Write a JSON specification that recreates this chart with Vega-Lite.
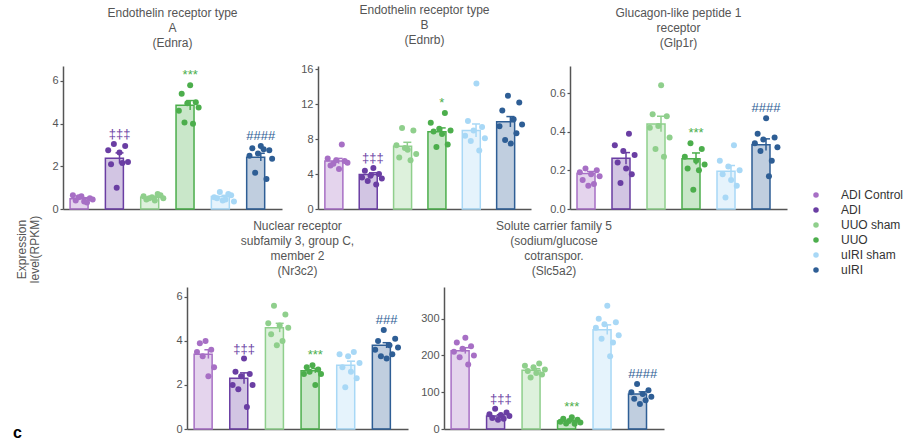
{
"$schema":"https://vega.github.io/schema/vega-lite/v6.json",
"padding":{"left":13,"top":4,"right":0,"bottom":0},
"title":{"text":"c","orient":"bottom","anchor":"start","fontSize":16,"fontWeight":"bold","color":"#000","baseline":"alphabetic","offset":4,"dx":-2},
"spacing":1,
"datasets":{
"summary":[
{"gene":"Ednra","group":"ADI Control","mean":0.48,"lo":0.43,"hi":0.53,"max":0.65,"sig":null},
{"gene":"Ednra","group":"ADI","mean":2.38,"lo":2.13,"hi":2.63,"max":3.05,"sig":"‡‡‡"},
{"gene":"Ednra","group":"UUO sham","mean":0.55,"lo":0.51,"hi":0.59,"max":0.7,"sig":null},
{"gene":"Ednra","group":"UUO","mean":4.86,"lo":4.64,"hi":5.08,"max":5.8,"sig":"***"},
{"gene":"Ednra","group":"uIRI sham","mean":0.58,"lo":0.52,"hi":0.64,"max":0.8,"sig":null},
{"gene":"Ednra","group":"uIRI","mean":2.43,"lo":2.25,"hi":2.61,"max":2.95,"sig":"####"},
{"gene":"Ednrb","group":"ADI Control","mean":5.5,"lo":5.2,"hi":5.8,"max":7.4,"sig":null},
{"gene":"Ednrb","group":"ADI","mean":3.95,"lo":3.75,"hi":4.15,"max":4.7,"sig":"‡‡‡"},
{"gene":"Ednrb","group":"UUO sham","mean":7.2,"lo":6.75,"hi":7.65,"max":9.3,"sig":null},
{"gene":"Ednrb","group":"UUO","mean":8.85,"lo":8.4,"hi":9.3,"max":11.0,"sig":"*"},
{"gene":"Ednrb","group":"uIRI sham","mean":9.0,"lo":8.25,"hi":9.75,"max":14.4,"sig":null},
{"gene":"Ednrb","group":"uIRI","mean":10.0,"lo":9.4,"hi":10.6,"max":13.0,"sig":null},
{"gene":"Glp1r","group":"ADI Control","mean":0.184,"lo":0.174,"hi":0.194,"max":0.21,"sig":null},
{"gene":"Glp1r","group":"ADI","mean":0.262,"lo":0.232,"hi":0.292,"max":0.39,"sig":null},
{"gene":"Glp1r","group":"UUO sham","mean":0.44,"lo":0.4,"hi":0.48,"max":0.64,"sig":null},
{"gene":"Glp1r","group":"UUO","mean":0.26,"lo":0.23,"hi":0.29,"max":0.34,"sig":"***"},
{"gene":"Glp1r","group":"uIRI sham","mean":0.195,"lo":0.165,"hi":0.225,"max":0.33,"sig":null},
{"gene":"Glp1r","group":"uIRI","mean":0.333,"lo":0.303,"hi":0.363,"max":0.47,"sig":"####"},
{"gene":"Nr3c2","group":"ADI Control","mean":3.4,"lo":3.2,"hi":3.6,"max":4.0,"sig":null},
{"gene":"Nr3c2","group":"ADI","mean":2.3,"lo":2.05,"hi":2.55,"max":3.2,"sig":"‡‡‡"},
{"gene":"Nr3c2","group":"UUO sham","mean":4.6,"lo":4.4,"hi":4.8,"max":5.6,"sig":null},
{"gene":"Nr3c2","group":"UUO","mean":2.65,"lo":2.55,"hi":2.75,"max":2.9,"sig":"***"},
{"gene":"Nr3c2","group":"uIRI sham","mean":2.9,"lo":2.72,"hi":3.08,"max":3.5,"sig":null},
{"gene":"Nr3c2","group":"uIRI","mean":3.8,"lo":3.68,"hi":3.92,"max":4.5,"sig":"###"},
{"gene":"Slc5a2","group":"ADI Control","mean":213,"lo":205,"hi":221,"max":248,"sig":null},
{"gene":"Slc5a2","group":"ADI","mean":35,"lo":31,"hi":39,"max":55,"sig":"‡‡‡"},
{"gene":"Slc5a2","group":"UUO sham","mean":160,"lo":156,"hi":164,"max":178,"sig":null},
{"gene":"Slc5a2","group":"UUO","mean":22,"lo":20,"hi":24,"max":32,"sig":"***"},
{"gene":"Slc5a2","group":"uIRI sham","mean":270,"lo":257,"hi":283,"max":335,"sig":null},
{"gene":"Slc5a2","group":"uIRI","mean":95,"lo":89,"hi":101,"max":122,"sig":"####"}
],
"points":[
{"gene":"Ednra","group":"ADI Control","rep":5,"value":0.35},{"gene":"Ednra","group":"ADI Control","rep":2,"value":0.4},{"gene":"Ednra","group":"ADI Control","rep":7,"value":0.5},{"gene":"Ednra","group":"ADI Control","rep":4,"value":0.6},{"gene":"Ednra","group":"ADI Control","rep":1,"value":0.65},{"gene":"Ednra","group":"ADI Control","rep":8,"value":0.45},{"gene":"Ednra","group":"ADI Control","rep":3,"value":0.55},{"gene":"Ednra","group":"ADI Control","rep":6,"value":0.3},
{"gene":"Ednra","group":"ADI","rep":3,"value":3.05},{"gene":"Ednra","group":"ADI","rep":7,"value":2.95},{"gene":"Ednra","group":"ADI","rep":1,"value":2.75},{"gene":"Ednra","group":"ADI","rep":5,"value":2.65},{"gene":"Ednra","group":"ADI","rep":8,"value":2.2},{"gene":"Ednra","group":"ADI","rep":2,"value":2.1},{"gene":"Ednra","group":"ADI","rep":6,"value":2.15},{"gene":"Ednra","group":"ADI","rep":4,"value":1.0},
{"gene":"Ednra","group":"UUO sham","rep":6,"value":0.7},{"gene":"Ednra","group":"UUO sham","rep":1,"value":0.6},{"gene":"Ednra","group":"UUO sham","rep":4,"value":0.55},{"gene":"Ednra","group":"UUO sham","rep":8,"value":0.5},{"gene":"Ednra","group":"UUO sham","rep":2,"value":0.45},{"gene":"Ednra","group":"UUO sham","rep":5,"value":0.4},{"gene":"Ednra","group":"UUO sham","rep":7,"value":0.65},{"gene":"Ednra","group":"UUO sham","rep":3,"value":0.5},
{"gene":"Ednra","group":"UUO","rep":5,"value":5.8},{"gene":"Ednra","group":"UUO","rep":2,"value":5.4},{"gene":"Ednra","group":"UUO","rep":7,"value":5.0},{"gene":"Ednra","group":"UUO","rep":4,"value":4.95},{"gene":"Ednra","group":"UUO","rep":1,"value":4.6},{"gene":"Ednra","group":"UUO","rep":8,"value":4.75},{"gene":"Ednra","group":"UUO","rep":3,"value":4.05},{"gene":"Ednra","group":"UUO","rep":6,"value":4.0},
{"gene":"Ednra","group":"uIRI sham","rep":3,"value":0.8},{"gene":"Ednra","group":"uIRI sham","rep":7,"value":0.65},{"gene":"Ednra","group":"uIRI sham","rep":1,"value":0.55},{"gene":"Ednra","group":"uIRI sham","rep":5,"value":0.45},{"gene":"Ednra","group":"uIRI sham","rep":8,"value":0.35},{"gene":"Ednra","group":"uIRI sham","rep":2,"value":0.5},{"gene":"Ednra","group":"uIRI sham","rep":6,"value":0.7},{"gene":"Ednra","group":"uIRI sham","rep":4,"value":0.4},
{"gene":"Ednra","group":"uIRI","rep":5,"value":2.95},{"gene":"Ednra","group":"uIRI","rep":2,"value":2.85},{"gene":"Ednra","group":"uIRI","rep":8,"value":2.75},{"gene":"Ednra","group":"uIRI","rep":4,"value":2.6},{"gene":"Ednra","group":"uIRI","rep":1,"value":2.5},{"gene":"Ednra","group":"uIRI","rep":9,"value":2.35},{"gene":"Ednra","group":"uIRI","rep":3,"value":1.7},{"gene":"Ednra","group":"uIRI","rep":7,"value":1.4},{"gene":"Ednra","group":"uIRI","rep":6,"value":2.8},
{"gene":"Ednrb","group":"ADI Control","rep":6,"value":7.4},{"gene":"Ednrb","group":"ADI Control","rep":1,"value":5.8},{"gene":"Ednrb","group":"ADI Control","rep":4,"value":5.6},{"gene":"Ednrb","group":"ADI Control","rep":8,"value":5.3},{"gene":"Ednrb","group":"ADI Control","rep":2,"value":5.0},{"gene":"Ednrb","group":"ADI Control","rep":5,"value":4.6},{"gene":"Ednrb","group":"ADI Control","rep":7,"value":5.5},{"gene":"Ednrb","group":"ADI Control","rep":3,"value":5.2},
{"gene":"Ednrb","group":"ADI","rep":5,"value":4.7},{"gene":"Ednrb","group":"ADI","rep":2,"value":4.4},{"gene":"Ednrb","group":"ADI","rep":7,"value":4.0},{"gene":"Ednrb","group":"ADI","rep":4,"value":3.8},{"gene":"Ednrb","group":"ADI","rep":1,"value":3.6},{"gene":"Ednrb","group":"ADI","rep":8,"value":3.5},{"gene":"Ednrb","group":"ADI","rep":3,"value":3.2},{"gene":"Ednrb","group":"ADI","rep":6,"value":2.8},
{"gene":"Ednrb","group":"UUO sham","rep":3,"value":9.3},{"gene":"Ednrb","group":"UUO sham","rep":7,"value":9.0},{"gene":"Ednrb","group":"UUO sham","rep":1,"value":7.3},{"gene":"Ednrb","group":"UUO sham","rep":5,"value":6.8},{"gene":"Ednrb","group":"UUO sham","rep":8,"value":6.3},{"gene":"Ednrb","group":"UUO sham","rep":2,"value":5.9},{"gene":"Ednrb","group":"UUO sham","rep":6,"value":5.6},{"gene":"Ednrb","group":"UUO sham","rep":4,"value":7.0},
{"gene":"Ednrb","group":"UUO","rep":6,"value":11.0},{"gene":"Ednrb","group":"UUO","rep":1,"value":9.9},{"gene":"Ednrb","group":"UUO","rep":4,"value":9.2},{"gene":"Ednrb","group":"UUO","rep":8,"value":9.0},{"gene":"Ednrb","group":"UUO","rep":2,"value":8.9},{"gene":"Ednrb","group":"UUO","rep":5,"value":8.6},{"gene":"Ednrb","group":"UUO","rep":7,"value":7.4},{"gene":"Ednrb","group":"UUO","rep":3,"value":7.1},
{"gene":"Ednrb","group":"uIRI sham","rep":5,"value":14.4},{"gene":"Ednrb","group":"uIRI sham","rep":2,"value":10.1},{"gene":"Ednrb","group":"uIRI sham","rep":7,"value":9.4},{"gene":"Ednrb","group":"uIRI sham","rep":4,"value":9.0},{"gene":"Ednrb","group":"uIRI sham","rep":1,"value":8.4},{"gene":"Ednrb","group":"uIRI sham","rep":8,"value":8.1},{"gene":"Ednrb","group":"uIRI sham","rep":3,"value":7.8},{"gene":"Ednrb","group":"uIRI sham","rep":6,"value":6.7},
{"gene":"Ednrb","group":"uIRI","rep":4,"value":13.0},{"gene":"Ednrb","group":"uIRI","rep":8,"value":12.2},{"gene":"Ednrb","group":"uIRI","rep":2,"value":11.3},{"gene":"Ednrb","group":"uIRI","rep":6,"value":10.3},{"gene":"Ednrb","group":"uIRI","rep":9,"value":9.7},{"gene":"Ednrb","group":"uIRI","rep":1,"value":9.5},{"gene":"Ednrb","group":"uIRI","rep":7,"value":8.7},{"gene":"Ednrb","group":"uIRI","rep":3,"value":7.9},{"gene":"Ednrb","group":"uIRI","rep":5,"value":7.5},
{"gene":"Glp1r","group":"ADI Control","rep":3,"value":0.21},{"gene":"Glp1r","group":"ADI Control","rep":7,"value":0.2},{"gene":"Glp1r","group":"ADI Control","rep":1,"value":0.19},{"gene":"Glp1r","group":"ADI Control","rep":5,"value":0.18},{"gene":"Glp1r","group":"ADI Control","rep":8,"value":0.17},{"gene":"Glp1r","group":"ADI Control","rep":2,"value":0.15},{"gene":"Glp1r","group":"ADI Control","rep":6,"value":0.13},{"gene":"Glp1r","group":"ADI Control","rep":4,"value":0.12},
{"gene":"Glp1r","group":"ADI","rep":6,"value":0.39},{"gene":"Glp1r","group":"ADI","rep":1,"value":0.33},{"gene":"Glp1r","group":"ADI","rep":4,"value":0.3},{"gene":"Glp1r","group":"ADI","rep":8,"value":0.28},{"gene":"Glp1r","group":"ADI","rep":2,"value":0.24},{"gene":"Glp1r","group":"ADI","rep":5,"value":0.21},{"gene":"Glp1r","group":"ADI","rep":7,"value":0.18},{"gene":"Glp1r","group":"ADI","rep":3,"value":0.135},
{"gene":"Glp1r","group":"UUO sham","rep":5,"value":0.64},{"gene":"Glp1r","group":"UUO sham","rep":2,"value":0.49},{"gene":"Glp1r","group":"UUO sham","rep":7,"value":0.48},{"gene":"Glp1r","group":"UUO sham","rep":4,"value":0.43},{"gene":"Glp1r","group":"UUO sham","rep":1,"value":0.42},{"gene":"Glp1r","group":"UUO sham","rep":8,"value":0.37},{"gene":"Glp1r","group":"UUO sham","rep":3,"value":0.31},{"gene":"Glp1r","group":"UUO sham","rep":6,"value":0.27},
{"gene":"Glp1r","group":"UUO","rep":3,"value":0.34},{"gene":"Glp1r","group":"UUO","rep":7,"value":0.31},{"gene":"Glp1r","group":"UUO","rep":1,"value":0.27},{"gene":"Glp1r","group":"UUO","rep":5,"value":0.25},{"gene":"Glp1r","group":"UUO","rep":8,"value":0.23},{"gene":"Glp1r","group":"UUO","rep":2,"value":0.21},{"gene":"Glp1r","group":"UUO","rep":6,"value":0.2},{"gene":"Glp1r","group":"UUO","rep":4,"value":0.1},
{"gene":"Glp1r","group":"uIRI sham","rep":6,"value":0.33},{"gene":"Glp1r","group":"uIRI sham","rep":1,"value":0.25},{"gene":"Glp1r","group":"uIRI sham","rep":4,"value":0.22},{"gene":"Glp1r","group":"uIRI sham","rep":8,"value":0.2},{"gene":"Glp1r","group":"uIRI sham","rep":2,"value":0.18},{"gene":"Glp1r","group":"uIRI sham","rep":5,"value":0.15},{"gene":"Glp1r","group":"uIRI sham","rep":7,"value":0.12},{"gene":"Glp1r","group":"uIRI sham","rep":3,"value":0.06},
{"gene":"Glp1r","group":"uIRI","rep":5,"value":0.47},{"gene":"Glp1r","group":"uIRI","rep":2,"value":0.39},{"gene":"Glp1r","group":"uIRI","rep":8,"value":0.37},{"gene":"Glp1r","group":"uIRI","rep":4,"value":0.36},{"gene":"Glp1r","group":"uIRI","rep":1,"value":0.34},{"gene":"Glp1r","group":"uIRI","rep":9,"value":0.32},{"gene":"Glp1r","group":"uIRI","rep":3,"value":0.3},{"gene":"Glp1r","group":"uIRI","rep":7,"value":0.25},{"gene":"Glp1r","group":"uIRI","rep":6,"value":0.17},
{"gene":"Nr3c2","group":"ADI Control","rep":4,"value":4.0},{"gene":"Nr3c2","group":"ADI Control","rep":2,"value":3.9},{"gene":"Nr3c2","group":"ADI Control","rep":6,"value":3.6},{"gene":"Nr3c2","group":"ADI Control","rep":3,"value":3.3},{"gene":"Nr3c2","group":"ADI Control","rep":1,"value":3.5},{"gene":"Nr3c2","group":"ADI Control","rep":7,"value":2.8},{"gene":"Nr3c2","group":"ADI Control","rep":5,"value":2.4},
{"gene":"Nr3c2","group":"ADI","rep":5,"value":3.2},{"gene":"Nr3c2","group":"ADI","rep":2,"value":2.6},{"gene":"Nr3c2","group":"ADI","rep":7,"value":2.5},{"gene":"Nr3c2","group":"ADI","rep":4,"value":2.4},{"gene":"Nr3c2","group":"ADI","rep":1,"value":2.0},{"gene":"Nr3c2","group":"ADI","rep":8,"value":2.0},{"gene":"Nr3c2","group":"ADI","rep":3,"value":1.8},{"gene":"Nr3c2","group":"ADI","rep":6,"value":1.0},
{"gene":"Nr3c2","group":"UUO sham","rep":3,"value":5.6},{"gene":"Nr3c2","group":"UUO sham","rep":7,"value":5.2},{"gene":"Nr3c2","group":"UUO sham","rep":1,"value":4.8},{"gene":"Nr3c2","group":"UUO sham","rep":5,"value":4.7},{"gene":"Nr3c2","group":"UUO sham","rep":8,"value":4.6},{"gene":"Nr3c2","group":"UUO sham","rep":2,"value":4.3},{"gene":"Nr3c2","group":"UUO sham","rep":6,"value":4.0},{"gene":"Nr3c2","group":"UUO sham","rep":4,"value":3.8},
{"gene":"Nr3c2","group":"UUO","rep":4,"value":2.9},{"gene":"Nr3c2","group":"UUO","rep":2,"value":2.8},{"gene":"Nr3c2","group":"UUO","rep":6,"value":2.7},{"gene":"Nr3c2","group":"UUO","rep":3,"value":2.6},{"gene":"Nr3c2","group":"UUO","rep":1,"value":2.5},{"gene":"Nr3c2","group":"UUO","rep":7,"value":2.5},{"gene":"Nr3c2","group":"UUO","rep":5,"value":2.0},
{"gene":"Nr3c2","group":"uIRI sham","rep":6,"value":3.5},{"gene":"Nr3c2","group":"uIRI sham","rep":1,"value":3.4},{"gene":"Nr3c2","group":"uIRI sham","rep":4,"value":3.3},{"gene":"Nr3c2","group":"uIRI sham","rep":8,"value":3.0},{"gene":"Nr3c2","group":"uIRI sham","rep":2,"value":2.8},{"gene":"Nr3c2","group":"uIRI sham","rep":5,"value":2.6},{"gene":"Nr3c2","group":"uIRI sham","rep":7,"value":2.3},{"gene":"Nr3c2","group":"uIRI sham","rep":3,"value":1.9},
{"gene":"Nr3c2","group":"uIRI","rep":4,"value":4.5},{"gene":"Nr3c2","group":"uIRI","rep":8,"value":4.1},{"gene":"Nr3c2","group":"uIRI","rep":2,"value":4.0},{"gene":"Nr3c2","group":"uIRI","rep":6,"value":3.8},{"gene":"Nr3c2","group":"uIRI","rep":9,"value":3.7},{"gene":"Nr3c2","group":"uIRI","rep":1,"value":3.6},{"gene":"Nr3c2","group":"uIRI","rep":7,"value":3.4},{"gene":"Nr3c2","group":"uIRI","rep":3,"value":3.3},{"gene":"Nr3c2","group":"uIRI","rep":5,"value":3.2},
{"gene":"Slc5a2","group":"ADI Control","rep":5,"value":248},{"gene":"Slc5a2","group":"ADI Control","rep":2,"value":235},{"gene":"Slc5a2","group":"ADI Control","rep":7,"value":225},{"gene":"Slc5a2","group":"ADI Control","rep":4,"value":218},{"gene":"Slc5a2","group":"ADI Control","rep":1,"value":210},{"gene":"Slc5a2","group":"ADI Control","rep":8,"value":200},{"gene":"Slc5a2","group":"ADI Control","rep":3,"value":195},{"gene":"Slc5a2","group":"ADI Control","rep":6,"value":175},
{"gene":"Slc5a2","group":"ADI","rep":3,"value":55},{"gene":"Slc5a2","group":"ADI","rep":7,"value":45},{"gene":"Slc5a2","group":"ADI","rep":1,"value":40},{"gene":"Slc5a2","group":"ADI","rep":5,"value":38},{"gene":"Slc5a2","group":"ADI","rep":8,"value":35},{"gene":"Slc5a2","group":"ADI","rep":2,"value":30},{"gene":"Slc5a2","group":"ADI","rep":6,"value":28},{"gene":"Slc5a2","group":"ADI","rep":4,"value":25},
{"gene":"Slc5a2","group":"UUO sham","rep":6,"value":178},{"gene":"Slc5a2","group":"UUO sham","rep":1,"value":172},{"gene":"Slc5a2","group":"UUO sham","rep":4,"value":168},{"gene":"Slc5a2","group":"UUO sham","rep":8,"value":162},{"gene":"Slc5a2","group":"UUO sham","rep":2,"value":158},{"gene":"Slc5a2","group":"UUO sham","rep":5,"value":152},{"gene":"Slc5a2","group":"UUO sham","rep":7,"value":148},{"gene":"Slc5a2","group":"UUO sham","rep":3,"value":140},
{"gene":"Slc5a2","group":"UUO","rep":5,"value":32},{"gene":"Slc5a2","group":"UUO","rep":2,"value":28},{"gene":"Slc5a2","group":"UUO","rep":7,"value":25},{"gene":"Slc5a2","group":"UUO","rep":4,"value":22},{"gene":"Slc5a2","group":"UUO","rep":1,"value":20},{"gene":"Slc5a2","group":"UUO","rep":8,"value":18},{"gene":"Slc5a2","group":"UUO","rep":3,"value":15},{"gene":"Slc5a2","group":"UUO","rep":6,"value":14},
{"gene":"Slc5a2","group":"uIRI sham","rep":5,"value":335},{"gene":"Slc5a2","group":"uIRI sham","rep":2,"value":300},{"gene":"Slc5a2","group":"uIRI sham","rep":8,"value":290},{"gene":"Slc5a2","group":"uIRI sham","rep":4,"value":285},{"gene":"Slc5a2","group":"uIRI sham","rep":1,"value":275},{"gene":"Slc5a2","group":"uIRI sham","rep":9,"value":255},{"gene":"Slc5a2","group":"uIRI sham","rep":3,"value":245},{"gene":"Slc5a2","group":"uIRI sham","rep":7,"value":235},{"gene":"Slc5a2","group":"uIRI sham","rep":6,"value":198},
{"gene":"Slc5a2","group":"uIRI","rep":3,"value":122},{"gene":"Slc5a2","group":"uIRI","rep":7,"value":105},{"gene":"Slc5a2","group":"uIRI","rep":1,"value":100},{"gene":"Slc5a2","group":"uIRI","rep":5,"value":95},{"gene":"Slc5a2","group":"uIRI","rep":8,"value":88},{"gene":"Slc5a2","group":"uIRI","rep":2,"value":82},{"gene":"Slc5a2","group":"uIRI","rep":6,"value":78},{"gene":"Slc5a2","group":"uIRI","rep":4,"value":68}
]
},
"vconcat":[
{"hconcat":[
{"width":219,"height":143,
 "title":{"text":["Endothelin  receptor type","A","(Ednra)"],"offset":16},
 "encoding":{"x":{"field":"group","type":"nominal","sort":["ADI Control","ADI","UUO sham","UUO","uIRI sham","uIRI"],"scale":{"paddingInner":0.2,"paddingOuter":0.2},"axis":{"labels":false,"ticks":false,"title":null}}},
 "layer":[
  {"data":{"name":"summary"},"transform":[{"filter":"datum.gene === 'Ednra'"}],"mark":{"type":"bar","fillOpacity":0.3,"strokeWidth":1.5},
   "encoding":{"y":{"field":"mean","type":"quantitative","scale":{"domain":[0,6.7],"nice":false,"zero":true},"axis":{"title":null,"values":[0,2,4,6]}},
    "fill":{"field":"group","type":"nominal","scale":{"domain":["ADI Control","ADI","UUO sham","UUO","uIRI sham","uIRI"],"range":["#a76fc5","#6a3ea3","#8fcf8c","#4cae4c","#a8d8f6","#2e5e95"]}},
    "stroke":{"field":"group","type":"nominal","scale":{"domain":["ADI Control","ADI","UUO sham","UUO","uIRI sham","uIRI"],"range":["#a76fc5","#6a3ea3","#8fcf8c","#4cae4c","#a8d8f6","#2e5e95"]}}}},
  {"data":{"name":"summary"},"transform":[{"filter":"datum.gene === 'Ednra'"}],"mark":{"type":"rule","strokeWidth":1.5},
   "encoding":{"y":{"field":"lo","type":"quantitative","title":null},"y2":{"field":"hi"},"stroke":{"field":"group","type":"nominal"}}},
  {"data":{"name":"summary"},"transform":[{"filter":"datum.gene === 'Ednra'"}],"mark":{"type":"tick","orient":"horizontal","size":8,"thickness":1.5,"opacity":1},
   "encoding":{"y":{"field":"hi","type":"quantitative","title":null},"fill":{"field":"group","type":"nominal"}}},
  {"data":{"name":"points"},"transform":[{"filter":"datum.gene === 'Ednra'"}],"mark":{"type":"circle","size":36,"opacity":1},
   "encoding":{"y":{"field":"value","type":"quantitative","title":null},"xOffset":{"field":"rep","type":"ordinal","scale":{"type":"point","padding":2}},
    "color":{"field":"group","type":"nominal","sort":["ADI Control","ADI","UUO sham","UUO","uIRI sham","uIRI"],"scale":{"domain":["ADI Control","ADI","UUO sham","UUO","uIRI sham","uIRI"],"range":["#a76fc5","#6a3ea3","#8fcf8c","#4cae4c","#a8d8f6","#2e5e95"]},
     "legend":{"orient":"none","legendX":747,"legendY":123,"title":null,"symbolType":"circle","symbolSize":30,"symbolStrokeWidth":0,"labelFontSize":12,"labelColor":"#333","labelOffset":19,"labelLimit":200,"rowPadding":3,"padding":0}}}},
  {"data":{"name":"summary"},"transform":[{"filter":"datum.gene === 'Ednra' && datum.sig"}],"mark":{"type":"text","baseline":"alphabetic","dy":-6,"fontSize":13},
   "encoding":{"y":{"field":"max","type":"quantitative","title":null},"text":{"field":"sig"},"fill":{"field":"group","type":"nominal"}}}
 ]},
{"width":213,"height":143,
 "title":{"text":["Endothelin  receptor type","B","(Ednrb)"],"offset":16},
 "encoding":{"x":{"field":"group","type":"nominal","sort":["ADI Control","ADI","UUO sham","UUO","uIRI sham","uIRI"],"scale":{"paddingInner":0.2,"paddingOuter":0.2},"axis":{"labels":false,"ticks":false,"title":null}}},
 "layer":[
  {"data":{"name":"summary"},"transform":[{"filter":"datum.gene === 'Ednrb'"}],"mark":{"type":"bar","fillOpacity":0.3,"strokeWidth":1.5},
   "encoding":{"y":{"field":"mean","type":"quantitative","scale":{"domain":[0,16.4],"nice":false,"zero":true},"axis":{"title":null,"values":[0,4,8,12,16],"tickCount":10}},
    "fill":{"field":"group","type":"nominal"},
    "stroke":{"field":"group","type":"nominal"}}},
  {"data":{"name":"summary"},"transform":[{"filter":"datum.gene === 'Ednrb'"}],"mark":{"type":"rule","strokeWidth":1.5},
   "encoding":{"y":{"field":"lo","type":"quantitative","title":null},"y2":{"field":"hi"},"stroke":{"field":"group","type":"nominal"}}},
  {"data":{"name":"summary"},"transform":[{"filter":"datum.gene === 'Ednrb'"}],"mark":{"type":"tick","orient":"horizontal","size":8,"thickness":1.5,"opacity":1},
   "encoding":{"y":{"field":"hi","type":"quantitative","title":null},"fill":{"field":"group","type":"nominal"}}},
  {"data":{"name":"points"},"transform":[{"filter":"datum.gene === 'Ednrb'"}],"mark":{"type":"circle","size":36,"opacity":1},
   "encoding":{"y":{"field":"value","type":"quantitative","title":null},"xOffset":{"field":"rep","type":"ordinal","scale":{"type":"point","padding":2}},
    "color":{"field":"group","type":"nominal","sort":["ADI Control","ADI","UUO sham","UUO","uIRI sham","uIRI"]}}},
  {"data":{"name":"summary"},"transform":[{"filter":"datum.gene === 'Ednrb' && datum.sig"}],"mark":{"type":"text","baseline":"alphabetic","dy":-6,"fontSize":13},
   "encoding":{"y":{"field":"max","type":"quantitative","title":null},"text":{"field":"sig"},"fill":{"field":"group","type":"nominal"}}}
 ]},
{"width":217,"height":143,
 "title":{"text":["Glucagon-like  peptide 1","receptor","(Glp1r)"],"offset":16},
 "encoding":{"x":{"field":"group","type":"nominal","sort":["ADI Control","ADI","UUO sham","UUO","uIRI sham","uIRI"],"scale":{"paddingInner":0.2,"paddingOuter":0.2},"axis":{"labels":false,"ticks":false,"title":null}}},
 "layer":[
  {"data":{"name":"summary"},"transform":[{"filter":"datum.gene === 'Glp1r'"}],"mark":{"type":"bar","fillOpacity":0.3,"strokeWidth":1.5},
   "encoding":{"y":{"field":"mean","type":"quantitative","scale":{"domain":[0,0.74],"nice":false,"zero":true},"axis":{"title":null,"values":[0,0.2,0.4,0.6],"format":".1f","tickCount":10}},
    "fill":{"field":"group","type":"nominal"},
    "stroke":{"field":"group","type":"nominal"}}},
  {"data":{"name":"summary"},"transform":[{"filter":"datum.gene === 'Glp1r'"}],"mark":{"type":"rule","strokeWidth":1.5},
   "encoding":{"y":{"field":"lo","type":"quantitative","title":null},"y2":{"field":"hi"},"stroke":{"field":"group","type":"nominal"}}},
  {"data":{"name":"summary"},"transform":[{"filter":"datum.gene === 'Glp1r'"}],"mark":{"type":"tick","orient":"horizontal","size":8,"thickness":1.5,"opacity":1},
   "encoding":{"y":{"field":"hi","type":"quantitative","title":null},"fill":{"field":"group","type":"nominal"}}},
  {"data":{"name":"points"},"transform":[{"filter":"datum.gene === 'Glp1r'"}],"mark":{"type":"circle","size":36,"opacity":1},
   "encoding":{"y":{"field":"value","type":"quantitative","title":null},"xOffset":{"field":"rep","type":"ordinal","scale":{"type":"point","padding":2}},
    "color":{"field":"group","type":"nominal","sort":["ADI Control","ADI","UUO sham","UUO","uIRI sham","uIRI"]}}},
  {"data":{"name":"summary"},"transform":[{"filter":"datum.gene === 'Glp1r' && datum.sig"}],"mark":{"type":"text","baseline":"alphabetic","dy":-6,"fontSize":13},
   "encoding":{"y":{"field":"max","type":"quantitative","title":null},"text":{"field":"sig"},"fill":{"field":"group","type":"nominal"}}}
 ]}
],"spacing":18},
{"hconcat":[
{"width":100,"height":142,
 "data":{"name":"summary"},"transform":[{"filter":"datum.gene === 'Nr3c2'"}],
 "mark":{"type":"point","opacity":0},
 "encoding":{"y":{"field":"mean","type":"quantitative","axis":{"title":["Expression","level(RPKM)"],"domain":false,"ticks":false,"labels":false,"titleY":-38,"titlePadding":22,"titleFontSize":12,"titleFontWeight":"normal","titleColor":"#555","titleLineHeight":13}}}},
{"width":221,"height":142,
 "title":{"text":["Nuclear receptor","subfamily 3, group C,","member 2","(Nr3c2)"],"offset":9},
 "encoding":{"x":{"field":"group","type":"nominal","sort":["ADI Control","ADI","UUO sham","UUO","uIRI sham","uIRI"],"scale":{"paddingInner":0.2,"paddingOuter":0.2},"axis":{"labels":false,"ticks":false,"title":null}}},
 "layer":[
  {"data":{"name":"summary"},"transform":[{"filter":"datum.gene === 'Nr3c2'"}],"mark":{"type":"bar","fillOpacity":0.3,"strokeWidth":1.5},
   "encoding":{"y":{"field":"mean","type":"quantitative","scale":{"domain":[0,6.45],"nice":false,"zero":true},"axis":{"title":null,"values":[0,2,4,6]}},
    "fill":{"field":"group","type":"nominal"},
    "stroke":{"field":"group","type":"nominal"}}},
  {"data":{"name":"summary"},"transform":[{"filter":"datum.gene === 'Nr3c2'"}],"mark":{"type":"rule","strokeWidth":1.5},
   "encoding":{"y":{"field":"lo","type":"quantitative","title":null},"y2":{"field":"hi"},"stroke":{"field":"group","type":"nominal"}}},
  {"data":{"name":"summary"},"transform":[{"filter":"datum.gene === 'Nr3c2'"}],"mark":{"type":"tick","orient":"horizontal","size":8,"thickness":1.5,"opacity":1},
   "encoding":{"y":{"field":"hi","type":"quantitative","title":null},"fill":{"field":"group","type":"nominal"}}},
  {"data":{"name":"points"},"transform":[{"filter":"datum.gene === 'Nr3c2'"}],"mark":{"type":"circle","size":36,"opacity":1},
   "encoding":{"y":{"field":"value","type":"quantitative","title":null},"xOffset":{"field":"rep","type":"ordinal","scale":{"type":"point","padding":2}},
    "color":{"field":"group","type":"nominal","sort":["ADI Control","ADI","UUO sham","UUO","uIRI sham","uIRI"]}}},
  {"data":{"name":"summary"},"transform":[{"filter":"datum.gene === 'Nr3c2' && datum.sig"}],"mark":{"type":"text","baseline":"alphabetic","dy":-6,"fontSize":13},
   "encoding":{"y":{"field":"max","type":"quantitative","title":null},"text":{"field":"sig"},"fill":{"field":"group","type":"nominal"}}}
 ]},
{"width":220,"height":142,
 "title":{"text":["Solute carrier family 5","(sodium/glucose","cotranspor.","(Slc5a2)"],"offset":9},
 "encoding":{"x":{"field":"group","type":"nominal","sort":["ADI Control","ADI","UUO sham","UUO","uIRI sham","uIRI"],"scale":{"paddingInner":0.2,"paddingOuter":0.2},"axis":{"labels":false,"ticks":false,"title":null}}},
 "layer":[
  {"data":{"name":"summary"},"transform":[{"filter":"datum.gene === 'Slc5a2'"}],"mark":{"type":"bar","fillOpacity":0.3,"strokeWidth":1.5},
   "encoding":{"y":{"field":"mean","type":"quantitative","scale":{"domain":[0,386],"nice":false,"zero":true},"axis":{"title":null,"values":[0,100,200,300]}},
    "fill":{"field":"group","type":"nominal"},
    "stroke":{"field":"group","type":"nominal"}}},
  {"data":{"name":"summary"},"transform":[{"filter":"datum.gene === 'Slc5a2'"}],"mark":{"type":"rule","strokeWidth":1.5},
   "encoding":{"y":{"field":"lo","type":"quantitative","title":null},"y2":{"field":"hi"},"stroke":{"field":"group","type":"nominal"}}},
  {"data":{"name":"summary"},"transform":[{"filter":"datum.gene === 'Slc5a2'"}],"mark":{"type":"tick","orient":"horizontal","size":8,"thickness":1.5,"opacity":1},
   "encoding":{"y":{"field":"hi","type":"quantitative","title":null},"fill":{"field":"group","type":"nominal"}}},
  {"data":{"name":"points"},"transform":[{"filter":"datum.gene === 'Slc5a2'"}],"mark":{"type":"circle","size":36,"opacity":1},
   "encoding":{"y":{"field":"value","type":"quantitative","title":null},"xOffset":{"field":"rep","type":"ordinal","scale":{"type":"point","padding":2}},
    "color":{"field":"group","type":"nominal","sort":["ADI Control","ADI","UUO sham","UUO","uIRI sham","uIRI"]}}},
  {"data":{"name":"summary"},"transform":[{"filter":"datum.gene === 'Slc5a2' && datum.sig"}],"mark":{"type":"text","baseline":"alphabetic","dy":-6,"fontSize":13},
   "encoding":{"y":{"field":"max","type":"quantitative","title":null},"text":{"field":"sig"},"fill":{"field":"group","type":"nominal"}}}
 ]}
],"spacing":12}
],
"resolve":{"scale":{"y":"independent","x":"independent","xOffset":"independent","fill":"shared","stroke":"shared","color":"shared"}},
"config":{
 "font":"Liberation Sans",
 "view":{"stroke":null},
 "concat":{"spacing":12},
 "axis":{"domainColor":"#555","domainWidth":1.5,"tickColor":"#555","tickSize":3,"tickWidth":1.2,"labelColor":"#555","labelFontSize":11,"labelPadding":2,"labelOverlap":false,"grid":false,"titleColor":"#555"},
 "legend":{"orient":"none","legendX":747,"legendY":123,"title":null,"symbolType":"circle","symbolSize":30,"labelFontSize":12,"labelColor":"#333","labelOffset":19,"labelLimit":200,"rowPadding":3,"padding":0},
 "title":{"fontSize":12,"fontWeight":"normal","color":"#555","lineHeight":15,"baseline":"bottom"}
}
}
